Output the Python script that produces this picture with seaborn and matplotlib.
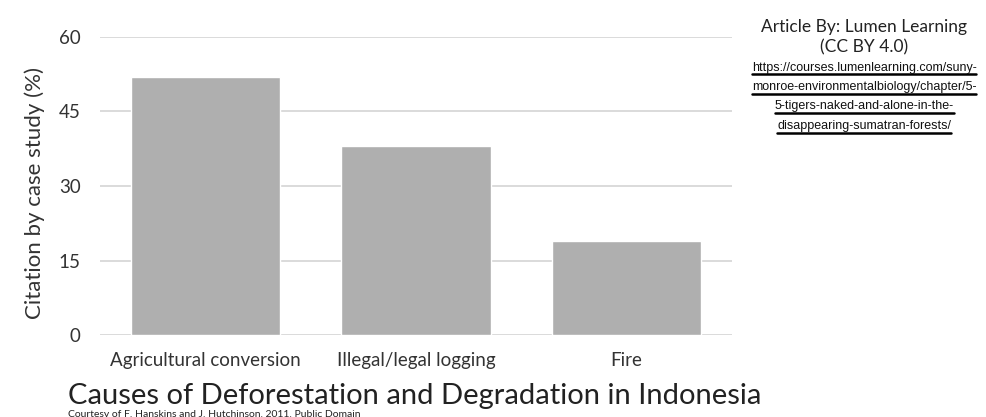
import matplotlib
matplotlib.use("Agg")
import matplotlib.pyplot as plt
import seaborn as sns
import pandas as pd

# data
causes = ["Agricultural conversion", "Illegal/legal logging", "Fire"]
citation_pct = [52, 38, 19]
y_ticks = [0, 15, 30, 45, 60]

url_lines = [
    "https://courses.lumenlearning.com/suny-",
    "monroe-environmentalbiology/chapter/5-",
    "5-tigers-naked-and-alone-in-the-",
    "disappearing-sumatran-forests/",
]

sns.set_style("white")
plt.rcParams["font.family"] = ["Lato", "DejaVu Sans"]

df = pd.DataFrame({"cause": causes, "pct": citation_pct})

fig = plt.figure(figsize=(9.87, 4.17), dpi=100)
ax = fig.add_axes([0.1013, 0.1966, 0.6403, 0.7147])

sns.barplot(data=df, x="cause", y="pct", color="#afafaf", width=0.71,
            saturation=1, ax=ax, zorder=2)

ax.set_ylim(0, 60)
ax.set_xlim(-0.5, 2.5)
ax.set_yticks(y_ticks)
ax.yaxis.grid(True, color="#d4d4d4", linewidth=1.2, zorder=0)
ax.set_axisbelow(True)
for s in ax.spines.values():
    s.set_visible(False)
ax.tick_params(axis="both", length=0, colors="#333333")
ax.tick_params(axis="y", labelsize=13.5, pad=14)
ax.tick_params(axis="x", labelsize=13.5, pad=12)
ax.set_xlabel("")
ax.set_ylabel("Citation by case study (%)", fontsize=16, color="#333333")
ax.yaxis.set_label_coords(-0.087, 0.475)

fig.text(0.0689, 0.031, "Causes of Deforestation and Degradation in Indonesia",
         fontsize=21, color="#222222", ha="left", va="baseline")
fig.text(0.0689, 0.001, "Courtesy of F. Hanskins and J. Hutchinson, 2011. Public Domain",
         fontsize=7.5, color="#222222", ha="left", va="baseline")

fig.text(0.8755, 0.935, "Article By: Lumen Learning", fontsize=12.5,
         color="#222222", ha="center", va="center")
fig.text(0.8755, 0.887, "(CC BY 4.0)", fontsize=12.5,
         color="#222222", ha="center", va="center")

renderer = fig.canvas.get_renderer()
for i, line in enumerate(url_lines):
    t = fig.text(0.8755, 0.838 - i * 0.0465, line, fontsize=9,
                 family=["Liberation Sans", "DejaVu Sans"],
                 color="#111111", ha="center", va="center")
    # underline matching the link's width
    bb = t.get_window_extent(renderer).transformed(fig.transFigure.inverted())
    fig.add_artist(plt.Line2D([bb.x0, bb.x1], [bb.y0 - 0.002] * 2,
                              color="black", linewidth=1.8,
                              transform=fig.transFigure))

fig.savefig("out.png", dpi=100)
